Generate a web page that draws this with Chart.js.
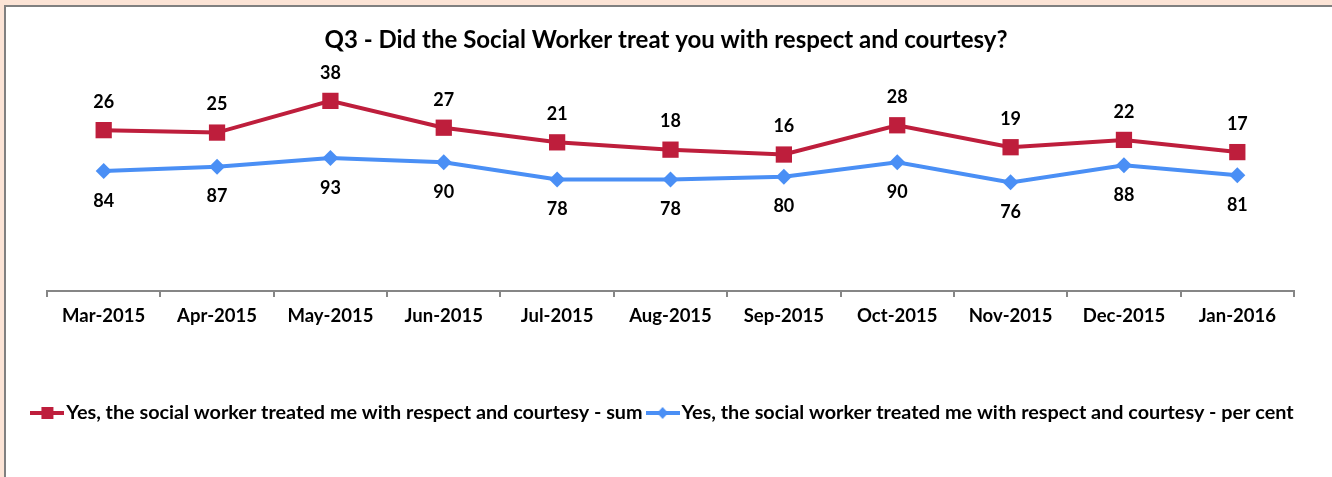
<!DOCTYPE html>
<html>
<head>
<meta charset="utf-8">
<script src="https://cdn.jsdelivr.net/npm/chart.js@4.4.0/dist/chart.umd.min.js"></script>
<style>
  html, body { margin: 0; padding: 0; background: #fce4d6; overflow: hidden; }
  .frame {
    position: absolute; left: 4px; top: 5px; width: 1340px; height: 480px;
    background: #fff; border-left: 2px solid #808080; border-top: 2px solid #808080;
  }
  .wrap { position: absolute; left: 0; top: 0; width: 1332px; height: 477px; }
</style>
</head>
<body>
<div class="frame"></div>
<div class="wrap"><canvas id="q3Chart" width="1332" height="477"></canvas></div>
<script>
const months = ['Mar-2015', 'Apr-2015', 'May-2015', 'Jun-2015', 'Jul-2015', 'Aug-2015',
                'Sep-2015', 'Oct-2015', 'Nov-2015', 'Dec-2015', 'Jan-2016'];
const respectSum = [26, 25, 38, 27, 21, 18, 16, 28, 19, 22, 17];
const respectPct = [84, 87, 93, 90, 78, 78, 80, 90, 76, 88, 81];
const seriesNames = [
    'Yes, the social worker treated me with respect and courtesy - sum',
    'Yes, the social worker treated me with respect and courtesy - per cent'
];

const RED = '#be1e3c';
const BLUE = '#4a8ff5';
const FONT = 'Lato, "DejaVu Sans", sans-serif';

Chart.defaults.font.family = FONT;
Chart.defaults.font.weight = 'bold';
Chart.defaults.color = '#000';

// Small line + marker swatch for the legend
function legendIcon(color, shape) {
    const c = document.createElement('canvas');
    c.width = 34;
    c.height = 16;
    const g = c.getContext('2d');
    g.strokeStyle = color;
    g.fillStyle = color;
    g.lineWidth = 4;
    g.beginPath();
    g.moveTo(0, 8);
    g.lineTo(34, 8);
    g.stroke();
    g.beginPath();
    if (shape === 'square') {
        g.rect(11, 2, 12, 12);
    } else {
        g.moveTo(17, 2);
        g.lineTo(22.5, 8);
        g.lineTo(17, 14);
        g.lineTo(11.5, 8);
        g.closePath();
    }
    g.fill();
    return c;
}
const legendIcons = [legendIcon(RED, 'square'), legendIcon(BLUE, 'diamond')];

// Numbers above the red points and below the blue ones
const valueLabels = {
    id: 'valueLabels',
    afterDatasetsDraw(chart) {
        const ctx = chart.ctx;
        ctx.save();
        ctx.font = 'bold 18px ' + FONT;
        ctx.fillStyle = '#000';
        ctx.textAlign = 'center';
        ctx.textBaseline = 'middle';
        chart.data.datasets.forEach((ds, i) => {
            const meta = chart.getDatasetMeta(i);
            const shift = i === 0 ? -28 : 30;
            meta.data.forEach((pt, j) => {
                ctx.fillText(String(ds.data[j]), pt.x, pt.y + shift);
            });
        });
        ctx.restore();
    }
};

const ctx = document.getElementById('q3Chart').getContext('2d');
new Chart(ctx, {
    type: 'line',
    data: {
        labels: months,
        datasets: [{
            label: seriesNames[0],
            data: respectSum,
            yAxisID: 'ySum',
            borderColor: RED,
            backgroundColor: RED,
            borderWidth: 4,
            pointStyle: 'rect',
            pointRadius: 11.5,
            pointBorderWidth: 0,
            tension: 0,
            clip: false
        }, {
            label: seriesNames[1],
            data: respectPct,
            yAxisID: 'yPct',
            borderColor: BLUE,
            backgroundColor: BLUE,
            borderWidth: 4,
            pointStyle: 'rectRot',
            pointRadius: 8,
            pointBorderWidth: 0,
            tension: 0,
            clip: false
        }]
    },
    options: {
        responsive: false,
        animation: false,
        layout: { padding: { left: 4, right: 4, top: 0, bottom: 44.1 } },
        plugins: {
            title: {
                display: true,
                text: 'Q3 - Did the Social Worker treat you with respect and courtesy?',
                color: '#000',
                font: { size: 24, weight: 'bold' },
                padding: { top: 25.6, bottom: 22.1 }
            },
            legend: {
                position: 'bottom',
                labels: {
                    usePointStyle: true,
                    pointStyleWidth: 18,
                    padding: 11,
                    color: '#000',
                    font: { size: 19.8, weight: 'bold' },
                    generateLabels(chart) {
                        const items = Chart.defaults.plugins.legend.labels.generateLabels(chart);
                        items.forEach((it, i) => { it.pointStyle = legendIcons[i]; });
                        return items;
                    }
                }
            },
            tooltip: { enabled: false }
        },
        scales: {
            x: {
                offset: true,
                grid: {
                    display: true, drawOnChartArea: false, drawTicks: true,
                    tickLength: 6, color: '#868686', lineWidth: 2, offset: true
                },
                border: { display: true, color: '#868686', width: 2 },
                ticks: {
                    color: '#000', font: { size: 18.5, weight: 'bold' },
                    padding: 8, maxRotation: 0, autoSkip: false
                },
                afterFit(scale) { scale.height = 101; }
            },
            ySum: {
                position: 'left',
                min: -40,
                max: 48,
                ticks: { display: false },
                grid: { display: false },
                border: { display: false },
                afterFit(scale) { scale.width = 43; }
            },
            yPct: {
                position: 'right',
                min: 0,
                max: 150,
                ticks: { display: false },
                grid: { display: false },
                border: { display: false },
                afterFit(scale) { scale.width = 34; }
            }
        }
    },
    plugins: [valueLabels]
});
</script>
</body>
</html>
